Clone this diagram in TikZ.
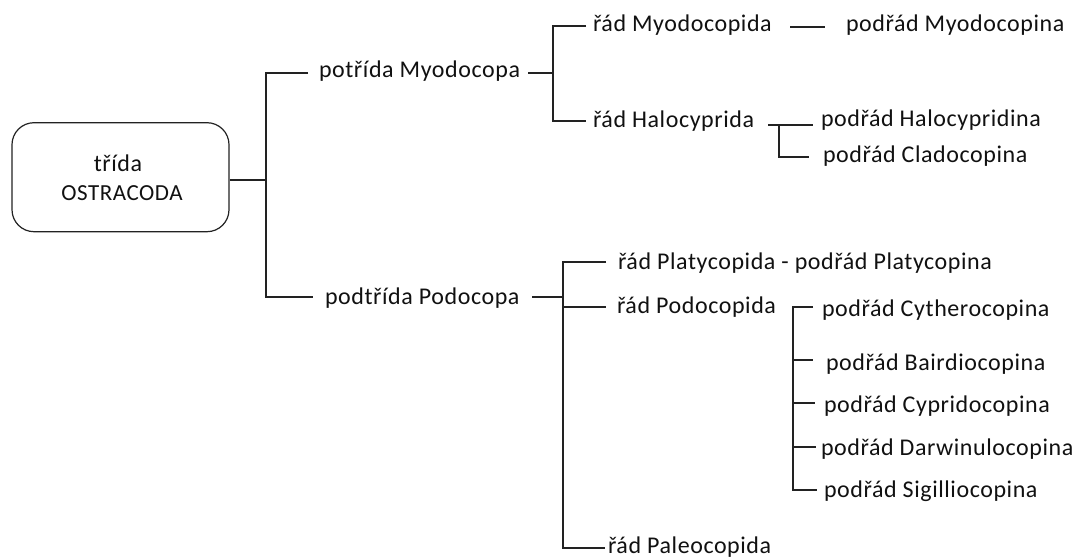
\documentclass[tikz,border=0pt]{standalone}
\usepackage{fontspec}
\setmainfont{Carlito}[LetterSpace=2.4]
\definecolor{ink}{HTML}{111111}
\definecolor{linec}{HTML}{222222}
\begin{document}
\begin{tikzpicture}[x=1pt,y=-1pt,
  txt/.style={anchor=base west, inner sep=0pt, outer sep=0pt, text=ink, font=\fontsize{24}{29}\selectfont},
  ctxt/.style={anchor=base, inner sep=0pt, outer sep=0pt, text=ink},
  ln/.style={draw=linec, line width=1.5pt},
  rootbox/.style={draw=linec, line width=1.2pt, rounded corners=22pt, minimum width=217pt, minimum height=109pt, inner sep=0pt}]
\useasboundingbox (0,0) rectangle (1075,559);
\fill[white] (0,0) rectangle (1075,559);

% root
\node[rootbox] (root) at (120.5,177.2) {};
\node[ctxt, font=\fontsize{24}{29}\selectfont] (rootA) at (118,171) {třída};
\node[ctxt, font=\fontsize{23}{29}\selectfont] (rootB) at (122,200) {OSTRACODA};

% text nodes
\node[txt] (pM) at (319,78) {potřída Myodocopa};
\node[txt] (pP) at (325,304) {podtřída Podocopa};
\node[txt] (rMy) at (593,32) {řád Myodocopida};
\node[txt] (sMy) at (846,32) {podřád Myodocopina};
\node[txt] (rHa) at (593,128) {řád Halocyprida};
\node[txt] (sHa) at (821,127) {podřád Halocypridina};
\node[txt] (sCl) at (823,162) {podřád Cladocopina};
\node[txt] (rPl) at (618,269) {řád Platycopida - podřád Platycopina};
\node[txt] (rPo) at (617,313) {řád Podocopida};
\node[txt] (Pal) at (608,553) {řád Paleocopida};
\node[txt] (sCy) at (822,316) {podřád Cytherocopina};
\node[txt] (sBa) at (826,370) {podřád Bairdiocopina};
\node[txt] (sCp) at (824,412) {podřád Cypridocopina};
\node[txt] (sDa) at (821,455) {podřád Darwinulocopina};
\node[txt] (sSi) at (824,497) {podřád Sigilliocopina};

% junctions and line ends
\coordinate (J1) at (266,180);
\coordinate (a1) at (308,73);
\coordinate (a2) at (313,297);
\coordinate (J2) at (553,73);
\coordinate (b0) at (528,73);
\coordinate (b1) at (586,26);
\coordinate (b2) at (586,121);
\coordinate (c1) at (790,27);
\coordinate (c2) at (825,27);
\coordinate (d0) at (768,125);
\coordinate (J3) at (779,125);
\coordinate (d1) at (813,125);
\coordinate (d2) at (809,157);
\coordinate (J4) at (563,297);
\coordinate (e0) at (532,297);
\coordinate (e1) at (606,262);
\coordinate (e2) at (606,307);
\coordinate (e3) at (605,548);
\coordinate (J5) at (793,307);
\coordinate (f1) at (813,307);
\coordinate (f2) at (813,360);
\coordinate (f3) at (815,403);
\coordinate (f4) at (816,447);
\coordinate (f5) at (817,490);

% connectors
\draw[ln] (root.east |- J1) -- (J1);
\draw[ln] (a1) -| (J1) |- (a2);
\draw[ln] (b0) -- (J2);
\draw[ln] (b1) -| (J2) |- (b2);
\draw[ln] (c1) -- (c2);
\draw[ln] (d0) -- (d1);
\draw[ln] (J3) |- (d2);
\draw[ln] (e0) -- (J4);
\draw[ln] (e1) -| (J4) |- (e3);
\draw[ln] (J4 |- e2) -- (e2);
\draw[ln] (f1) -- (J5) |- (f5);
\draw[ln] (J5 |- f2) -- (f2);
\draw[ln] (J5 |- f3) -- (f3);
\draw[ln] (J5 |- f4) -- (f4);
\end{tikzpicture}
\end{document}
